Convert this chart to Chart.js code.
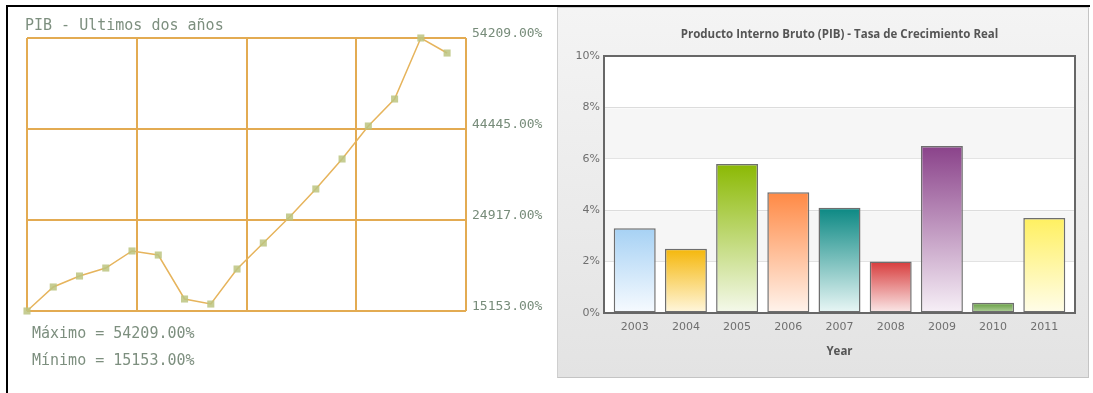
<!DOCTYPE html>
<html>
<head>
<meta charset="utf-8">
<script src="https://cdn.jsdelivr.net/npm/chart.js@4/dist/chart.umd.min.js"></script>
<style>
  html, body { margin: 0; padding: 0; }
  body { width: 1093px; height: 393px; position: relative; overflow: hidden; background: #fff; }
  .abs { position: absolute; }
  .rule-top  { left: 7px; top: 5px; width: 1083px; height: 2px; background: #000; }
  .rule-left { left: 6px; top: 5px; width: 2px; height: 388px; background: #000; }
  .mono { font-family: "DejaVu Sans Mono", monospace; color: #7d8f7f; font-size: 15px; line-height: 18px; white-space: nowrap; }
  .panel {
    left: 557px; top: 7px; width: 530px; height: 369px;
    border: 1px solid #cfcfcf; border-bottom-color: #c4c4c4; border-right-color: #c4c4c4;
    background: linear-gradient(#f4f4f4, #e3e3e3);
  }
  .bar-title {
    left: 604px; top: 26px; width: 471px; text-align: center;
    font: bold 11.5px "Open Sans", sans-serif; color: #555; line-height: 16px;
  }
</style>
</head>
<body>
<div class="abs panel"></div>
<canvas id="pib" class="abs" width="557" height="393" style="left:0;top:0"></canvas>
<canvas id="growth" class="abs" width="530" height="370" style="left:558px;top:8px"></canvas>
<div class="abs rule-top"></div>
<div class="abs rule-left"></div>

<div class="abs mono" style="left:25px;top:16px">PIB - Ultimos dos años</div>
<div class="abs mono" id="pibMax" style="left:32px;top:324px"></div>
<div class="abs mono" id="pibMin" style="left:32px;top:351px"></div>
<div class="abs bar-title">Producto Interno Bruto (PIB) - Tasa de Crecimiento Real</div>

<script>
// PIB, last two years (line chart, left)
const pibValues = [15153, 18590, 20160, 21300, 23740, 23160, 16870, 16150, 21160,
                   24880, 28600, 32610, 36900, 41620, 45480, 54209, 52060]
const pibTickLabels = ["15153.00%", "24917.00%", "44445.00%", "54209.00%"]

// Real growth rate by year (bar chart, right)
const years  = [2003, 2004, 2005, 2006, 2007, 2008, 2009, 2010, 2011]
const growth = [3.3, 2.5, 5.8, 4.7, 4.1, 2.0, 6.5, 0.4, 3.7]
const growthTicks = [0, 2, 4, 6, 8, 10]

// bar fill: gradient from top colour down to a pale tint
const barTop    = ["#a6d1f4", "#f5b70a", "#8bb903", "#ff8944", "#0b8883", "#d73c3c", "#8a428a", "#5f993a", "#fff060"]
const barBottom = ["#f7fbff", "#fff7df", "#f5f9ec", "#fff4ed", "#eaf7f6", "#fbeaea", "#f7f0f7", "#b9d6a6", "#fffdea"]

const pibMax = Math.max(...pibValues)
const pibMin = Math.min(...pibValues)
document.getElementById("pibMax").textContent = "Máximo = " + pibMax.toFixed(2) + "%"
document.getElementById("pibMin").textContent = "Mínimo = " + pibMin.toFixed(2) + "%"

const gold = "#e3ab52"
const pibSpan = 16.72   // x range in sample steps; grid splits it in four

new Chart(document.getElementById("pib"), {
  type: "line",
  data: {
    datasets: [{
      data: pibValues.map((v, i) => ({ x: i, y: v })),
      borderColor: "#e6b45c",
      borderWidth: 1.5,
      tension: 0,
      pointStyle: "rect",
      pointRadius: 5,
      pointBackgroundColor: "rgba(188,196,128,0.85)",
      pointBorderWidth: 0,
      clip: false
    }]
  },
  options: {
    responsive: false,
    animation: false,
    layout: { padding: { left: 27, top: 38, right: 0, bottom: 82 } },
    plugins: { legend: { display: false }, tooltip: { enabled: false } },
    scales: {
      x: {
        type: "linear",
        min: 0,
        max: pibSpan,
        afterBuildTicks: (s) => { s.ticks = [0, 1, 2, 3, 4].map(i => ({ value: s.min + i * (s.max - s.min) / 4 })) },
        afterFit: (s) => { s.height = 0 },
        ticks: { display: false },
        border: { display: false },
        grid: { color: gold, lineWidth: 2, drawTicks: false }
      },
      y: {
        position: "right",
        min: pibMin,
        max: pibMax,
        afterBuildTicks: (s) => {
          const n = pibTickLabels.length
          s.ticks = pibTickLabels.map((_, i) => ({ value: s.min + i * (s.max - s.min) / (n - 1) }))
        },
        afterFit: (s) => { s.width = 91 },
        border: { display: false },
        grid: { color: gold, lineWidth: 2, drawTicks: false },
        ticks: {
          autoSkip: false,
          padding: 6,
          labelOffset: -4,
          color: "#778c7a",
          font: { family: "DejaVu Sans Mono", size: 13 },
          callback: (v, i) => pibTickLabels[i]
        }
      }
    }
  }
})

// white plot with alternating grey bands and a dark frame
const plotFrame = {
  id: "plotFrame",
  beforeDraw(chart) {
    const { ctx, chartArea: a } = chart
    ctx.save()
    ctx.fillStyle = "#fff"
    ctx.fillRect(a.left, a.top, a.width, a.height)
    ctx.restore()
  },
  beforeDatasetsDraw(chart) {
    const { ctx, chartArea: a, scales: { y } } = chart
    ctx.save()
    for (let i = 1; i < y.ticks.length - 1; i += 2) {
      const y0 = y.getPixelForValue(y.ticks[i].value)
      const y1 = y.getPixelForValue(y.ticks[i + 1].value)
      ctx.fillStyle = "rgba(238,238,238,0.55)"
      ctx.fillRect(a.left, y1 + 1, a.width, y0 - y1 - 1)
    }
    ctx.restore()
  },
  afterDatasetsDraw(chart) {
    const { ctx, chartArea: a } = chart
    ctx.save()
    ctx.strokeStyle = "#676767"
    ctx.lineWidth = 2
    ctx.strokeRect(a.left, a.top, a.width, a.height)
    ctx.restore()
  }
}

new Chart(document.getElementById("growth"), {
  type: "bar",
  plugins: [plotFrame],
  data: {
    datasets: [{
      data: years.map((yr, i) => ({ x: yr, y: growth[i] })),
      backgroundColor: (c) => {
        const i = c.dataIndex
        const y = c.chart.scales.y
        if (c.type !== "data" || !y || !c.chart.chartArea) return barTop[i] || barTop[0]
        const top = y.getPixelForValue(growth[i])
        const base = y.getPixelForValue(0)
        if (!isFinite(top) || !isFinite(base) || top === base) return barTop[i]
        const g = c.chart.ctx.createLinearGradient(0, top, 0, base)
        g.addColorStop(0, barTop[i])
        g.addColorStop(1, barBottom[i])
        return g
      },
      borderColor: "#6e6e6e",
      borderWidth: 1.5,
      borderSkipped: false,
      barPercentage: 0.82,
      categoryPercentage: 1
    }]
  },
  options: {
    responsive: false,
    animation: false,
    layout: { padding: { left: 0, top: 48, right: 13, bottom: 0 } },
    plugins: { legend: { display: false }, tooltip: { enabled: false } },
    scales: {
      x: {
        type: "linear",
        offset: false,
        min: years[0] - 0.6,
        max: years[years.length - 1] + 0.6,
        afterBuildTicks: (s) => { s.ticks = years.map(v => ({ value: v })) },
        afterFit: (s) => { s.height = 65 },
        border: { display: false },
        grid: { display: false, drawTicks: false },
        ticks: {
          autoSkip: false,
          maxRotation: 0,
          padding: 8,
          color: "#6f6f6f",
          font: { family: "DejaVu Sans", size: 11 },
          callback: (v) => String(v)
        },
        title: {
          display: true,
          text: "Year",
          color: "#555",
          font: { family: "Open Sans", size: 11.5, weight: "bold" },
          padding: { top: 0, bottom: 19 }
        }
      },
      y: {
        min: growthTicks[0],
        max: growthTicks[growthTicks.length - 1],
        afterBuildTicks: (s) => { s.ticks = growthTicks.map(v => ({ value: v })) },
        afterFit: (s) => { s.width = 46 },
        border: { display: false },
        grid: { color: "#dcdcdc", lineWidth: 1, drawTicks: false },
        ticks: {
          padding: 4,
          color: "#6f6f6f",
          font: { family: "DejaVu Sans", size: 11 },
          callback: (v) => v + "%"
        }
      }
    }
  }
})
</script>
</body>
</html>
